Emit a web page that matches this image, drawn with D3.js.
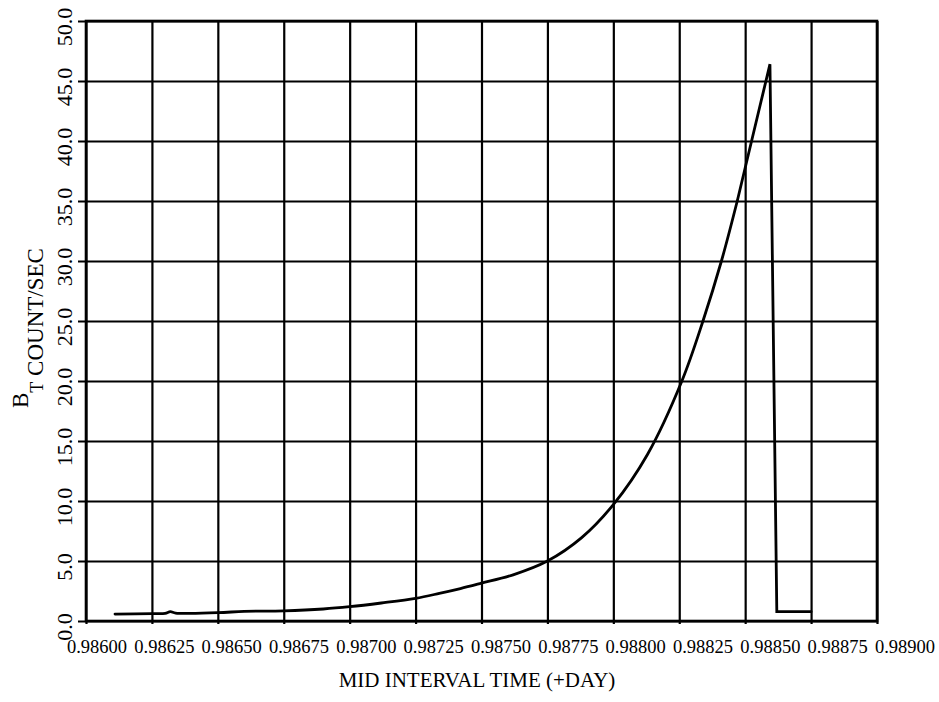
<!DOCTYPE html>
<html>
<head>
<meta charset="utf-8">
<script src="https://cdn.jsdelivr.net/npm/d3@7"></script>
<style>
  html, body { margin: 0; padding: 0; background: #fff; }
  svg { display: block; }
  text { font-family: "Liberation Serif", "DejaVu Serif", serif; fill: #000; }
</style>
</head>
<body>
<svg id="chart" width="939" height="702"></svg>
<script>
// tick values / labels
const xTicks = [0.98600, 0.98625, 0.98650, 0.98675, 0.98700, 0.98725, 0.98750,
                0.98775, 0.98800, 0.98825, 0.98850, 0.98875, 0.98900];
const yTicks = [0, 5, 10, 15, 20, 25, 30, 35, 40, 45, 50];

// B_T count rate (rising part, drawn smooth)
const times = [0.98611, 0.98625, 0.98630, 0.98632, 0.98634, 0.98650, 0.98660, 0.98675,
               0.98690, 0.98700, 0.98712, 0.98725, 0.98734, 0.98742, 0.98750,
               0.98762, 0.98775, 0.98788, 0.98800, 0.98813, 0.98826,
               0.98834, 0.98841, 0.98847];
const rates = [0.58, 0.62, 0.64, 0.78, 0.66, 0.70, 0.80, 0.85,
               1.00, 1.19, 1.50, 1.89, 2.30, 2.70, 3.15,
               3.85, 5.00, 6.95, 9.70, 13.9, 20.0,
               25.0, 30.0, 35.0];
// last rise to the peak, the drop and the flat tail (straight segments)
const tailTimes = [0.98847, 0.988594, 0.988620, 0.98875];
const tailRates = [35.0, 46.4, 0.78, 0.78];

const M = { left: 86, right: 62, top: 21, bottom: 81 };
const W = 939, H = 702;
const w = W - M.left - M.right, h = H - M.top - M.bottom;

const svg = d3.select("#chart");
const g = svg.append("g").attr("transform", `translate(${M.left},${M.top})`);

const x = d3.scaleLinear().domain([0.986, 0.989]).range([0, w]);
const y = d3.scaleLinear().domain([0, 50]).range([h, 0]);
// the printed labels drift a little wider than the grid
const xLab = d3.scaleLinear().domain([0.986, 0.989]).range([11, w + 28]);

// vertical grid + ticks
const gx = g.append("g").attr("transform", `translate(0,${h})`)
  .call(d3.axisBottom(x).tickValues(xTicks).tickSize(0).tickFormat(""));
gx.select(".domain").remove();
gx.selectAll(".tick line")
  .attr("y1", 3).attr("y2", -h)
  .attr("stroke", "#000").attr("stroke-width", 2.2);

// horizontal grid + ticks
const gy = g.append("g")
  .call(d3.axisLeft(y).tickValues(yTicks).tickSize(0).tickFormat(""));
gy.select(".domain").remove();
gy.selectAll(".tick line")
  .attr("x1", -8).attr("x2", w)
  .attr("stroke", "#000").attr("stroke-width", 2.2);

// frame
g.append("rect").attr("x", 0).attr("y", 0).attr("width", w).attr("height", h)
  .attr("fill", "none").attr("stroke", "#000").attr("stroke-width", 2.6);

// x tick labels
g.append("g").selectAll("text").data(xTicks).join("text")
  .attr("x", d => xLab(d)).attr("y", h + 32)
  .attr("text-anchor", "middle").attr("font-size", 18.5)
  .text(d => d3.format(".5f")(d));

// y tick labels (rotated)
g.append("g").selectAll("text").data(yTicks).join("text")
  .attr("transform", d => `translate(-14,${y(d) + 6}) rotate(-90)`)
  .attr("text-anchor", "middle").attr("font-size", 22)
  .text(d => d3.format(".1f")(d));

// curve
const smooth = d3.line().curve(d3.curveCatmullRom.alpha(0.5))
  .x((d, i) => x(times[i])).y(d => y(d));
const straight = d3.line()
  .x((d, i) => x(tailTimes[i])).y(d => y(d));
g.append("path").datum(rates)
  .attr("d", smooth)
  .attr("fill", "none").attr("stroke", "#000")
  .attr("stroke-width", 2.8).attr("stroke-linecap", "round");
g.append("path").datum(tailRates)
  .attr("d", straight)
  .attr("fill", "none").attr("stroke", "#000")
  .attr("stroke-width", 2.8).attr("stroke-linejoin", "miter")
  .attr("stroke-linecap", "round");

// axis titles
svg.append("text")
  .attr("x", 477).attr("y", 687)
  .attr("text-anchor", "middle").attr("font-size", 21)
  .text("MID INTERVAL TIME (+DAY)");

const yt = svg.append("text")
  .attr("transform", "translate(28,408) rotate(-90)")
  .attr("text-anchor", "start").attr("font-size", 23);
yt.append("tspan").text("B");
yt.append("tspan").attr("dy", 15).attr("font-size", 18).text("T");
yt.append("tspan").text(" COUNT/SEC");
</script>
</body>
</html>
